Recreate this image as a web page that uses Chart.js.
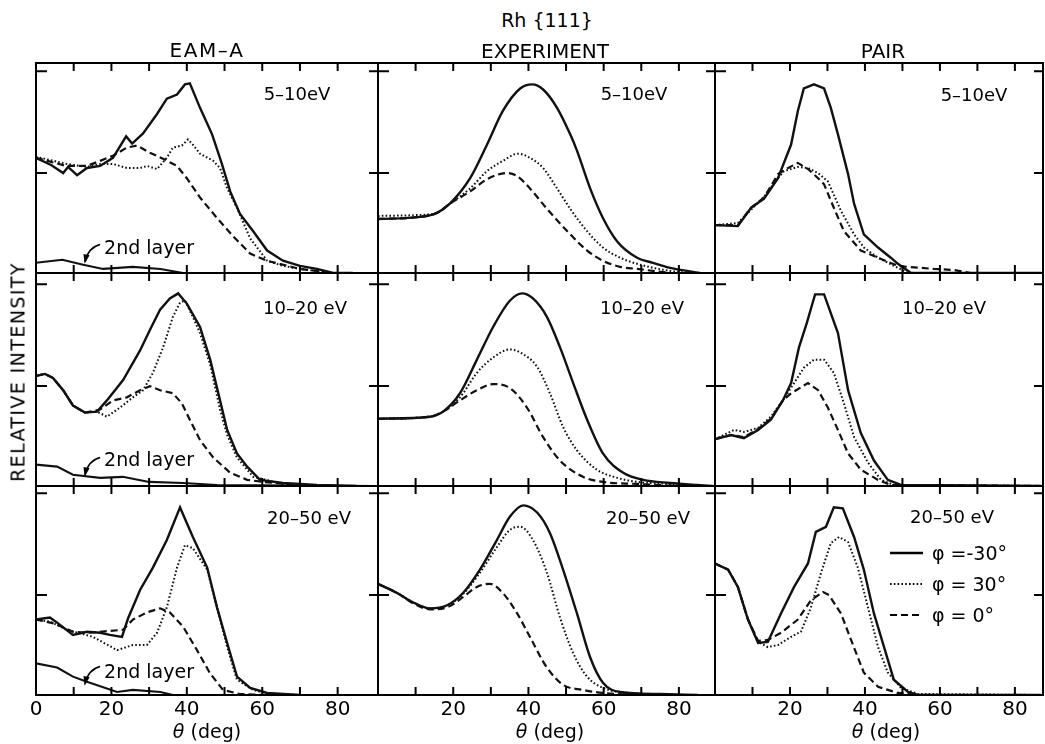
<!DOCTYPE html>
<html><head><meta charset="utf-8">
<script src="https://cdn.jsdelivr.net/npm/chart.js@4.4.1/dist/chart.umd.min.js"></script>
<style>
html,body{margin:0;padding:0;background:#fff;}
body{width:1045px;height:744px;position:relative;overflow:hidden;font-family:"DejaVu Sans",sans-serif;color:#000;}
canvas{position:absolute;}
.t{position:absolute;white-space:pre;transform:translate(-50%,-50%);line-height:1;}
.l{position:absolute;white-space:pre;transform:translate(0,-50%);line-height:1;}
</style></head><body>
<script>
// ---------- data (theta in deg, relative intensity) ----------
const COL_TITLES = ['EAM–A', 'EXPERIMENT', 'PAIR'];
const ROW_LABELS = ['5–10eV', '10–20 eV', '20–50 eV'];
const SERIES_LABELS = ['φ =-30°', 'φ = 30°', 'φ = 0°'];
const X_TICKS = [10, 20, 30, 40, 50, 60, 70, 80];
const X_LABELS = [0, 20, 40, 60, 80];
const Y_TICKS = [0.98, 1.98];

// EAM-A
const eam5_m30 = [[0,1.13],[4,1.06],[6,1.01],[7.2,0.98],[8.5,1.04],[10.9,0.96],[13.5,1.03],[17,1.05],[20.4,1.13],[23.9,1.34],[25.5,1.27],[28.4,1.37],[32.1,1.56],[34.7,1.71],[37.4,1.75],[39.5,1.85],[40.8,1.86],[43.5,1.62],[46.7,1.36],[49.3,1.07],[51.5,0.80],[54.1,0.58],[57.6,0.41],[61.3,0.22],[65.5,0.12],[70,0.07],[74.5,0.04],[78.8,0.0],[84,0]];
const eam5_p30 = [[0,1.14],[8.2,1.07],[13.5,1.04],[17,1.07],[20.4,1.07],[24.1,1.03],[27.6,1.03],[29.5,1.05],[32.1,1.02],[34.7,1.13],[36.3,1.23],[38.7,1.25],[40.3,1.31],[41.6,1.26],[43.5,1.17],[47,1.10],[48.8,1.03],[50.7,0.83],[53.3,0.64],[56.8,0.34],[61.3,0.12],[65.5,0.07],[70,0.04],[78.8,0]];
const eam5_0 = [[0,1.13],[8,1.05],[13.5,1.05],[17,1.10],[20.4,1.15],[24.1,1.23],[26.8,1.25],[30.2,1.18],[33.7,1.12],[37.4,1.05],[40,0.93],[43.5,0.74],[48,0.54],[52.3,0.36],[56.8,0.19],[61.3,0.12],[70,0.04],[78.8,0]];
const eam5_2nd = [[0,0.10],[7,0.13],[12.5,0.08],[17.8,0.04],[25.7,0.06],[33,0.04],[39,0],[90,0]];

const eam10_m30 = [[0,1.08],[2.4,1.10],[4.5,1.06],[7.2,0.94],[9.8,0.79],[13,0.72],[16.2,0.73],[18.8,0.84],[23.1,1.04],[27.6,1.33],[30.2,1.53],[32.9,1.73],[35.5,1.84],[37.7,1.89],[40,1.79],[43.5,1.56],[46.2,1.24],[48.8,0.84],[50.7,0.55],[53.3,0.32],[56,0.19],[59.4,0.06],[65.5,0.03],[74.5,0.01],[85,0]];
const eam10_p30 = [[0,1.08],[2.4,1.10],[4.5,1.06],[7.2,0.94],[9.8,0.79],[13,0.72],[16.2,0.73],[18.8,0.68],[22.3,0.77],[25.7,0.87],[28.4,0.94],[31,1.11],[33.7,1.36],[36.3,1.66],[38.2,1.80],[39.5,1.82],[41.6,1.66],[43.5,1.50],[46.2,1.19],[48.8,0.75],[50.7,0.50],[53.3,0.28],[57.6,0.09],[65.5,0.02],[80,0]];
const eam10_0 = [[0,1.08],[2.4,1.10],[4.5,1.06],[7.2,0.94],[9.8,0.79],[13,0.72],[17,0.75],[20.4,0.84],[24.1,0.87],[27.6,0.94],[30.2,0.98],[32.9,0.94],[36.3,0.91],[38.7,0.81],[40.8,0.65],[43.5,0.45],[47,0.28],[51.5,0.13],[56,0.06],[60.2,0.04],[70,0.01],[80,0]];
const eam10_2nd = [[0,0.21],[5.6,0.19],[9.8,0.11],[17,0.08],[23,0.09],[30,0.04],[39,0.03],[48,0.01],[90,0]];

const eam20_m30 = [[0,0.74],[3.7,0.76],[5.6,0.71],[9.8,0.59],[13.5,0.62],[17,0.61],[19.6,0.59],[22.8,0.57],[24.4,0.75],[27.6,1.03],[31,1.25],[34.7,1.52],[38.2,1.84],[41.6,1.55],[45.4,1.25],[48,0.86],[50.7,0.51],[53.3,0.18],[56.8,0.07],[61.3,0.02],[70,0]];
const eam20_p30 = [[0,0.74],[3.7,0.72],[8.2,0.64],[15.1,0.57],[21.5,0.44],[25.7,0.49],[29.4,0.49],[32.1,0.61],[34.7,0.86],[37.4,1.25],[39.5,1.47],[41.6,1.44],[45.4,1.23],[48,0.86],[50.7,0.47],[53.3,0.15],[57.6,0.05],[62,0.01],[70,0]];
const eam20_0 = [[0,0.74],[5,0.70],[9.8,0.62],[13.5,0.61],[17,0.62],[23.1,0.64],[25.7,0.74],[29.4,0.81],[32.9,0.85],[35.5,0.81],[39,0.67],[42.7,0.44],[46.2,0.21],[49.6,0.05],[54,0.01],[60,0]];
const eam20_2nd = [[0,0.31],[5.6,0.27],[9.8,0.18],[13.5,0.13],[21.5,0.03],[25.7,0.05],[33,0.03],[36.3,0],[90,0]];

// EXPERIMENT
const exp5_m30 = [[0,0.53],[11.2,0.55],[15.7,0.59],[19.1,0.68],[24.5,0.93],[29,1.26],[33.2,1.59],[37.8,1.81],[41,1.85],[43.9,1.80],[47.6,1.62],[51.1,1.36],[52.9,1.20],[56.4,0.83],[59.8,0.54],[63.6,0.31],[68.9,0.15],[73.1,0.10],[77.7,0.05],[85.6,0]];
const exp5_p30 = [[0,0.56],[11.2,0.57],[15.7,0.59],[19.1,0.68],[24.5,0.83],[29,1.00],[33.2,1.10],[37.2,1.17],[40.4,1.13],[43.9,1.03],[47.6,0.83],[51.1,0.63],[55.6,0.41],[59.8,0.25],[64.4,0.15],[68.9,0.09],[77.7,0.02],[83,0]];
const exp5_0 = [[0,0.53],[11.2,0.55],[15.7,0.59],[19.1,0.68],[24.5,0.80],[29,0.92],[34.3,0.98],[37,0.95],[40.4,0.83],[44.9,0.63],[51.1,0.38],[55.6,0.22],[59.8,0.12],[64.4,0.06],[68.9,0.04],[77.7,0]];

const exp10_m30 = [[0,0.66],[13.8,0.68],[17.3,0.73],[21.8,0.91],[26.3,1.24],[30.6,1.56],[35.1,1.82],[38.3,1.89],[41.2,1.84],[44.9,1.66],[48.4,1.36],[51.9,1.01],[55.6,0.65],[59.8,0.32],[65.2,0.13],[70.5,0.06],[77.7,0.03],[84.8,0.01],[89,0]];
const exp10_p30 = [[0,0.66],[13.8,0.68],[17.3,0.73],[21.8,0.87],[26.3,1.11],[30.6,1.26],[35.1,1.34],[37.8,1.31],[42.3,1.17],[45.7,0.91],[49.2,0.58],[52.9,0.35],[58.2,0.16],[63.6,0.08],[68.9,0.04],[77.7,0.02],[86,0]];
const exp10_0 = [[0,0.66],[13.8,0.68],[17.3,0.73],[21.8,0.84],[26.3,0.94],[30.6,1.00],[35.1,0.96],[39.6,0.77],[43.9,0.48],[48.4,0.25],[54.5,0.09],[59.8,0.04],[68.9,0.02],[80,0]];

const exp20_m30 = [[0,1.09],[5.1,1.00],[9.3,0.91],[13.8,0.85],[18.4,0.88],[22.6,1.00],[27.1,1.23],[31.6,1.52],[35.1,1.75],[38.6,1.86],[42.3,1.79],[45.7,1.59],[49.2,1.23],[52.9,0.80],[56.4,0.37],[59.8,0.12],[64.4,0.03],[75,0.01],[85,0]];
const exp20_p30 = [[0,1.09],[5.1,1.00],[9.3,0.91],[13.8,0.85],[18.4,0.88],[22.6,0.99],[27.1,1.20],[31.6,1.45],[35.1,1.62],[37.8,1.65],[41.2,1.52],[44.9,1.20],[48.4,0.76],[51.9,0.41],[55.6,0.18],[59.8,0.07],[67,0.02],[82,0]];
const exp20_0 = [[0,1.09],[5.1,1.00],[9.3,0.90],[13.8,0.84],[18.4,0.86],[22.6,0.96],[26.3,1.06],[29.8,1.09],[33.2,1.00],[37,0.80],[40.4,0.57],[44.9,0.27],[49.2,0.10],[54.5,0.05],[59.8,0.02],[70,0]];

// PAIR
const pair5_m30 = [[0,0.47],[6.1,0.46],[9.6,0.64],[13.1,0.73],[16.8,0.93],[20.3,1.26],[22.1,1.59],[23.7,1.81],[26.4,1.85],[29.1,1.81],[30.9,1.62],[32.8,1.36],[35.5,0.97],[37.1,0.68],[39.7,0.38],[43.5,0.25],[46.9,0.15],[48.8,0.09],[52.3,0],[87,0]];
const pair5_p30 = [[0,0.47],[6.1,0.49],[9.6,0.62],[13.1,0.75],[16.8,0.93],[18.4,1.00],[22.1,1.04],[24.8,1.03],[27.5,0.98],[30.1,0.90],[33.6,0.61],[37.1,0.38],[39.7,0.25],[43.5,0.15],[47.7,0.07],[51.5,0],[87,0]];
const pair5_0 = [[0,0.47],[6.1,0.47],[9.6,0.64],[13.1,0.74],[16.8,0.97],[19.5,1.03],[22.1,1.08],[24.8,1.02],[27.5,0.93],[29.1,0.87],[31.7,0.64],[34.4,0.41],[38.9,0.22],[43.5,0.15],[48.8,0.07],[51.5,0.06],[58.4,0.04],[63.7,0.03],[68.3,0],[87,0]];

const pair10_m30 = [[0,0.46],[4.3,0.50],[7.7,0.47],[11.5,0.55],[14.9,0.65],[18.1,0.84],[20.3,1.01],[22.4,1.36],[24.5,1.60],[26.7,1.88],[29.1,1.88],[32.8,1.50],[35.5,0.94],[38.9,0.52],[42.4,0.25],[46.1,0.06],[49.6,0.01],[87,0]];
const pair10_p30 = [[0,0.46],[5.1,0.55],[7.7,0.53],[11.5,0.57],[14.9,0.68],[18.1,0.84],[21.1,1.01],[23.7,1.16],[26.4,1.24],[29.1,1.24],[31.7,1.11],[34.4,0.81],[37.1,0.48],[40.8,0.23],[44.3,0.06],[47.7,0.01],[87,0]];
const pair10_0 = [[0,0.46],[4.3,0.50],[7.7,0.48],[11.5,0.56],[14.9,0.66],[18.1,0.84],[20.3,0.91],[24.8,1.01],[27.5,0.94],[30.1,0.77],[32.8,0.55],[35.5,0.32],[38.9,0.16],[43.5,0.06],[46.9,0.01],[87,0]];

const pair20_m30 = [[0,1.29],[3.5,1.23],[6.1,1.06],[8.8,0.74],[11.5,0.51],[14.1,0.52],[17.6,0.80],[21.1,1.06],[24.8,1.29],[26.9,1.60],[29.6,1.65],[31.7,1.84],[34.1,1.83],[37.1,1.55],[39.7,1.23],[42.4,0.80],[45.1,0.47],[47.7,0.15],[51.5,0.03],[54.1,0],[87,0]];
const pair20_p30 = [[0,1.29],[3.5,1.23],[6.1,1.06],[8.8,0.74],[11.5,0.52],[14.1,0.47],[16.8,0.49],[20.3,0.57],[22.9,0.62],[25.6,0.86],[28.3,1.20],[30.9,1.49],[33.1,1.55],[35.5,1.50],[38.1,1.25],[40.8,0.86],[43.5,0.47],[46.1,0.22],[49.6,0.07],[54.1,0.01],[87,0]];
const pair20_0 = [[0,1.29],[3.5,1.23],[6.1,1.06],[8.8,0.74],[11.5,0.53],[14.1,0.54],[17.6,0.61],[22.1,0.74],[25.6,0.93],[28.8,1.01],[30.4,0.98],[33.6,0.80],[36.3,0.54],[39.7,0.22],[43.5,0.08],[48.8,0.02],[55,0],[87,0]];

const PANELS = [
  [[eam5_m30, eam5_p30, eam5_0, eam5_2nd], [exp5_m30, exp5_p30, exp5_0], [pair5_m30, pair5_p30, pair5_0]],
  [[eam10_m30, eam10_p30, eam10_0, eam10_2nd], [exp10_m30, exp10_p30, exp10_0], [pair10_m30, pair10_p30, pair10_0]],
  [[eam20_m30, eam20_p30, eam20_0, eam20_2nd], [exp20_m30, exp20_p30, exp20_0], [pair20_m30, pair20_p30, pair20_0]]
];

// ---------- layout ----------
const FONT = '"DejaVu Sans", sans-serif';
const COLS = [{left:36, right:378, xmax:90.7}, {left:378, right:715, xmax:89.6}, {left:715, right:1043, xmax:87.5}];
const ROWS = [{top:63, bottom:273, ymax:2.06}, {top:273, bottom:486, ymax:2.09}, {top:486, bottom:695, ymax:2.05}];
const PAD = 20, AXIS_H = 48;
const STYLES = [
  {borderWidth:2.4, borderDash:[]},
  {borderWidth:2.0, borderDash:[1.6,2.2]},
  {borderWidth:2.2, borderDash:[7,4]},
  {borderWidth:2.1, borderDash:[]}
];

function txt(s, x, y, size, extra, cls) {
  const d = document.createElement('div');
  d.className = cls || 't';
  d.style.left = x + 'px'; d.style.top = y + 'px';
  d.style.fontSize = size + 'px';
  if (extra) Object.assign(d.style, extra);
  d.innerHTML = s;
  document.body.appendChild(d);
  return d;
}

const framePlugin = {
  id: 'frame',
  afterDatasetsDraw(chart, args, opts) {
    const {ctx, chartArea: a, scales: {x, y}} = chart;
    ctx.save();
    ctx.strokeStyle = '#000';
    ctx.lineWidth = 2;
    ctx.strokeRect(a.left, a.top, a.right - a.left, a.bottom - a.top);
    ctx.beginPath();
    for (const v of X_TICKS) {
      const px = x.getPixelForValue(v);
      ctx.moveTo(px, a.top); ctx.lineTo(px, a.top + 8);
      ctx.moveTo(px, a.bottom); ctx.lineTo(px, a.bottom - 8);
    }
    for (const v of Y_TICKS) {
      const py = y.getPixelForValue(v);
      ctx.moveTo(a.left, py); ctx.lineTo(a.left + 11, py);
      ctx.moveTo(a.right, py); ctx.lineTo(a.right - 9, py);
    }
    ctx.stroke();
    if (opts.arrow) {
      const [f, c, t] = opts.arrow.map(p => [x.getPixelForValue(p[0]), y.getPixelForValue(p[1])]);
      ctx.lineWidth = 1.6;
      ctx.beginPath();
      ctx.moveTo(f[0], f[1]);
      ctx.quadraticCurveTo(c[0], c[1], t[0], t[1]);
      ctx.stroke();
      const ang = Math.atan2(t[1] - c[1], t[0] - c[0]);
      ctx.beginPath();
      ctx.moveTo(t[0] + 2 * Math.cos(ang), t[1] + 2 * Math.sin(ang));
      ctx.lineTo(t[0] - 8 * Math.cos(ang - 0.4), t[1] - 8 * Math.sin(ang - 0.4));
      ctx.lineTo(t[0] - 8 * Math.cos(ang + 0.4), t[1] - 8 * Math.sin(ang + 0.4));
      ctx.closePath();
      ctx.fillStyle = '#000';
      ctx.fill();
    }
    if (opts.legend) {
      const ds = chart.data.datasets;
      for (let i = 0; i < 3; i++) {
        const ly = a.top + 67 + i * 31;
        ctx.lineWidth = ds[i].borderWidth;
        ctx.setLineDash(ds[i].borderDash);
        ctx.beginPath();
        ctx.moveTo(a.left + 175, ly); ctx.lineTo(a.left + 208, ly);
        ctx.stroke();
      }
      ctx.setLineDash([]);
    }
    ctx.restore();
  }
};

PANELS.forEach((rowSeries, r) => {
  rowSeries.forEach((series, c) => {
    const col = COLS[c], row = ROWS[r];
    const isBottom = r === ROWS.length - 1;
    const cv = document.createElement('canvas');
    const w = col.right - col.left + 2 * PAD;
    const h = row.bottom - row.top + PAD + (isBottom ? AXIS_H : PAD);
    cv.width = w; cv.height = h;
    cv.style.left = (col.left - PAD) + 'px';
    cv.style.top = (row.top - PAD) + 'px';
    cv.style.width = w + 'px'; cv.style.height = h + 'px';
    document.body.appendChild(cv);
    const datasets = series.map((d, i) => ({
      label: i < 3 ? SERIES_LABELS[i] : '2nd layer',
      data: d,
      borderColor: '#111',
      borderWidth: STYLES[i].borderWidth,
      borderDash: STYLES[i].borderDash,
      pointRadius: 0,
      fill: false,
      tension: c === 1 ? 0.4 : 0,
      cubicInterpolationMode: c === 1 ? 'monotone' : 'default'
    }));
    new Chart(cv, {
      type: 'line',
      data: {datasets},
      options: {
        responsive: false, animation: false, devicePixelRatio: 1,
        layout: {padding: {left: PAD, right: PAD, top: PAD, bottom: isBottom ? 0 : PAD}},
        plugins: {
          legend: {display: false}, tooltip: {enabled: false},
          frame: {
            arrow: c === 0 ? [[17, 0.28], [13.8, 0.25], [13, 0.11]] : null,
            legend: (c === 2 && isBottom)
          }
        },
        scales: {
          x: {
            type: 'linear', min: 0, max: col.xmax, display: isBottom,
            grid: {display: false, drawTicks: false}, border: {display: false},
            afterFit: s => { s.height = isBottom ? AXIS_H : 0; },
            ticks: {
              stepSize: 10, autoSkip: false, includeBounds: false, maxRotation: 0, padding: 3, color: '#000',
              font: {family: FONT, size: 20},
              callback: v => (X_LABELS.includes(v) && (v > 0 || c === 0)) ? String(v) : ''
            }
          },
          y: {type: 'linear', min: 0, max: row.ymax, display: false}
        }
      },
      plugins: [framePlugin]
    });
  });
});

// ---------- texts ----------
txt('Rh {111}', 547, 20, 19);
txt(COL_TITLES[0], 207, 50, 20, {letterSpacing: '1.5px'});
txt(COL_TITLES[1], 545, 51, 20);
txt(COL_TITLES[2], 883, 51, 20);
txt('RELATIVE INTENSITY', 18, 372, 19, {transform: 'translate(-50%,-50%) rotate(-90deg)', letterSpacing: '1.4px'});
const rowLabelPos = [[[297,94],[634,94],[974,95]], [[305,308],[642,308],[944,308]], [[309,518],[648,518],[952,517]]];
rowLabelPos.forEach((row, r) => row.forEach(p => txt(ROW_LABELS[r], p[0], p[1], 18)));
[247, 459, 671].forEach(y => txt('2nd layer', 149, y, 19));
[207, 550, 886].forEach(x => txt('<i>θ</i> (deg)', x, 731, 19));
txt(SERIES_LABELS[0], 932, 553, 19, null, 'l');
txt(SERIES_LABELS[1], 932, 584, 19, null, 'l');
txt(SERIES_LABELS[2], 932, 615, 19, null, 'l');
</script>
</body></html>
